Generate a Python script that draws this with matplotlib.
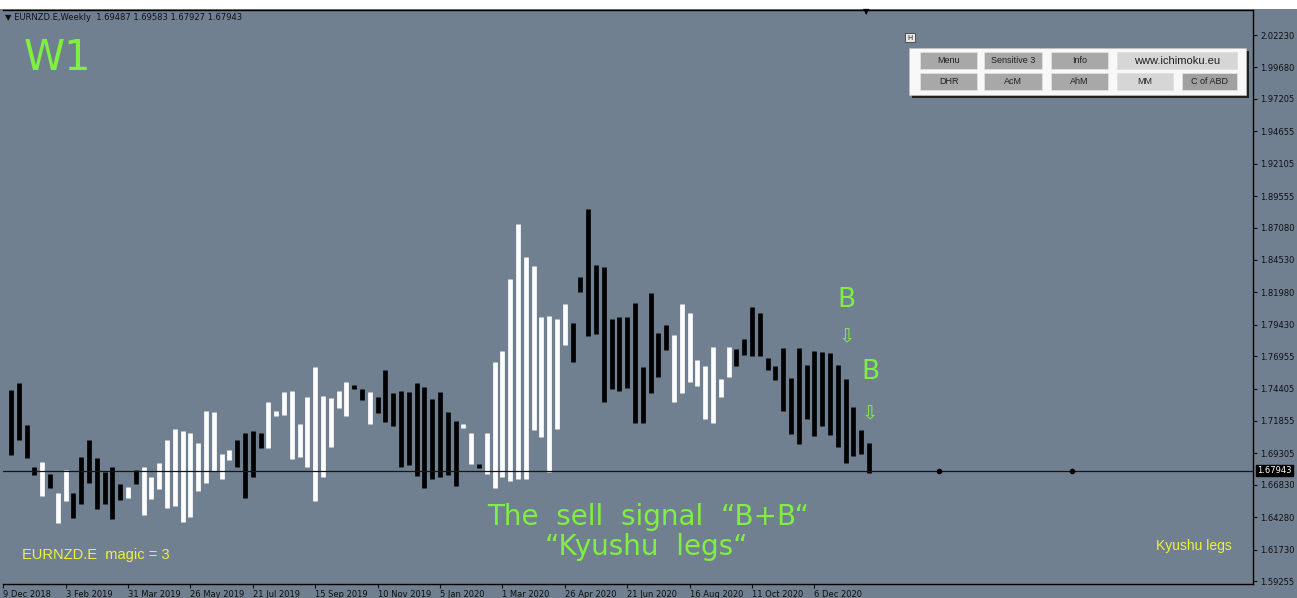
import matplotlib
matplotlib.use('Agg')
import matplotlib.pyplot as plt
import matplotlib.dates as mdates
from matplotlib.patches import Rectangle
import pandas as pd

W, H = 1297, 598
BG = '#708090'
GREEN = '#80F040'
YELLOW = '#F0F040'

# weekly "Kyushu legs" bars
weeks = pd.date_range('2018-12-16', periods=111, freq='7D')
highs = [1.7429, 1.7484, 1.7153, 1.6823, 1.6862, 1.6768, 1.6618, 1.6799, 1.6618, 1.6901,
         1.7035, 1.6894, 1.6783, 1.6823, 1.6689, 1.6665, 1.6799, 1.6823, 1.6744, 1.6854,
         1.7035, 1.7122, 1.7106, 1.7090, 1.7012, 1.7264, 1.7256, 1.6925, 1.6957, 1.7035,
         1.7090, 1.7106, 1.7090, 1.7334, 1.7264, 1.7413, 1.7421, 1.7161, 1.7374, 1.7610,
         1.7382, 1.7366, 1.7421, 1.7492, 1.7468, 1.7437, 1.7413, 1.7374, 1.7586, 1.7405,
         1.7421, 1.7413, 1.7484, 1.7452, 1.7358, 1.7413, 1.7256, 1.7185, 1.7161, 1.7090,
         1.6843, 1.7090, 1.7649, 1.7736, 1.8303, 1.8735, 1.8476, 1.8405, 1.8003, 1.8011,
         1.7988, 1.8106, 1.7956, 1.8318, 1.8853, 1.8413, 1.8397, 1.7988, 1.8003, 1.8003,
         1.8114, 1.7610, 1.8192, 1.7878, 1.7940, 1.7862, 1.8106, 1.8035, 1.7665, 1.7618,
         1.7767, 1.7515, 1.7767, 1.7752, 1.7830, 1.8082, 1.8035, 1.7681, 1.7618, 1.7759,
         1.7523, 1.7759, 1.7626, 1.7736, 1.7728, 1.7720, 1.7626, 1.7515, 1.7295, 1.7114,
         1.7012]
lows = [1.6917, 1.7035, 1.6894, 1.6760, 1.6595, 1.6658, 1.6382, 1.6555, 1.6421, 1.6532,
        1.6697, 1.6492, 1.6532, 1.6414, 1.6563, 1.6579, 1.6689, 1.6445, 1.6571, 1.6650,
        1.6500, 1.6516, 1.6390, 1.6429, 1.6634, 1.6697, 1.6791, 1.6728, 1.6878, 1.6823,
        1.6579, 1.6744, 1.6972, 1.6972, 1.7224, 1.7232, 1.6886, 1.6901, 1.6823, 1.6555,
        1.6744, 1.6980, 1.7287, 1.7224, 1.7437, 1.7350, 1.7161, 1.7248, 1.7177, 1.7146,
        1.6823, 1.6839, 1.6752, 1.6658, 1.6728, 1.6744, 1.6760, 1.6673, 1.7130, 1.6846,
        1.6812, 1.6768, 1.6658, 1.6744, 1.6713, 1.6728, 1.6728, 1.7114, 1.7059, 1.6783,
        1.7122, 1.7783, 1.7649, 1.8200, 1.7854, 1.7870, 1.7334, 1.7437, 1.7421, 1.7445,
        1.7169, 1.7169, 1.7405, 1.7531, 1.7744, 1.7334, 1.7405, 1.7492, 1.7460, 1.7201,
        1.7169, 1.7374, 1.7531, 1.7618, 1.7704, 1.7696, 1.7696, 1.7586, 1.7508, 1.7264,
        1.7083, 1.7004, 1.7201, 1.7067, 1.7146, 1.7075, 1.6980, 1.6854, 1.6909, 1.6925,
        1.6776]
colors = ('BBBBWBWWBB' 'BBBBBWBWWW' 'WWWWWWWWWB' 'BBBWWWWWWW' 'WWWWBBWBBB'
          'BBBBBBBBWW' 'BWWWWWWWWW' 'WWBBBBBBBB' 'BBBBBWWWWW' 'WWWBBBBBBB'
          'BBBBBBBBBBB')

last_price = 1.67943
future_dots = [9, 26]   # weeks after last bar
tick_dates = pd.date_range('2018-12-09', periods=14, freq='56D')
price_ticks = [2.02230, 1.99680, 1.97205, 1.94655, 1.92105, 1.89555, 1.87080, 1.84530,
               1.81980, 1.79430, 1.76955, 1.74405, 1.71855, 1.69305, 1.66830, 1.64280,
               1.61730, 1.59255]
signals = [(107, 1.8137, 1.7846), (110, 1.7571, 1.7240)]  # bar, "B" level, arrow level


def fx(x):
    return x / W


def fy(y):
    return 1 - y / H


def box(x0, y0, x1, y1, **kw):
    fig.add_artist(Rectangle((fx(x0), fy(y1)), (x1 - x0) / W, (y1 - y0) / H,
                             transform=fig.transFigure, **kw))


fig = plt.figure(figsize=(W / 100, H / 100), dpi=100, facecolor=BG)
ax = fig.add_axes([fx(3), fy(584), fx(1253) - fx(3), fy(10) - fy(584)])
ax.set_facecolor(BG)

xs = mdates.date2num(weeks)
cols = ['white' if c == 'W' else 'black' for c in colors]
ax.vlines(xs, lows, highs, colors=cols, linewidth=3.4)

ax.axhline(last_price, color='#151515', linewidth=0.9)
fut = [xs[-1] + 7 * n for n in future_dots]
ax.plot(fut, [last_price] * len(fut), 'o', color='black', markersize=3)

for i, yb, ya in signals:
    ax.text(xs[i] + 1, yb, 'B', color=GREEN, fontsize=19, ha='center', va='center')
    ax.text(xs[i] + 1, ya, '⇩', color=GREEN, fontsize=14, ha='center', va='center')

ax.set_xlim(xs[0] - 7.2, xs[0] + (1253 - 11) / 7.8 * 7)
ax.set_ylim(1.5902, 2.0420)

ax.set_xticks(mdates.date2num(tick_dates))
ax.set_xticklabels([f"{d.day} {d.strftime('%b %Y')}" for d in tick_dates])
plt.setp(ax.get_xticklabels(), ha='left')
ax.tick_params(axis='x', direction='out', length=3, labelsize=6, pad=1,
               colors='#101010')

ax.yaxis.tick_right()
ax.set_yticks(price_ticks)
ax.set_yticklabels([f'{p:.5f}' for p in price_ticks])
ax.tick_params(axis='y', direction='out', length=3, labelsize=6, pad=2,
               colors='#101010')

for s in ['top', 'right', 'bottom']:
    ax.spines[s].set_color('black')
    ax.spines[s].set_linewidth(1)
ax.spines['left'].set_visible(False)

ax.annotate(f'{last_price:.5f}', xy=(1, last_price), xycoords=('axes fraction', 'data'),
            xytext=(3, 0), textcoords='offset points', ha='left', va='center',
            fontsize=6, color='white',
            bbox=dict(boxstyle='square,pad=0.15', fc='black', ec='black'))

# header and labels
box(0, 0, W, 9, facecolor='white', edgecolor='none')
fig.text(fx(5), fy(18), '▼ EURNZD.E,Weekly  1.69487 1.69583 1.67927 1.67943',
         fontsize=6, color='#111111', va='center')
fig.text(fx(866), fy(12), '▼', fontsize=6, color='black', ha='center', va='center')
fig.text(fx(24), fy(58), 'W1', fontsize=30, color=GREEN, va='center')
fig.text(fx(22), fy(555), 'EURNZD.E  magic = 3', fontsize=10.5, color=YELLOW,
         va='center', family='Liberation Sans')
fig.text(fx(1194), fy(546), 'Kyushu legs', fontsize=10, color=YELLOW,
         ha='center', va='center', family='Liberation Sans')
fig.text(fx(648), fy(517), 'The  sell  signal  “B+B“', fontsize=20, color=GREEN,
         ha='center', va='center')
fig.text(fx(646), fy(547), '“Kyushu  legs“', fontsize=20, color=GREEN,
         ha='center', va='center')

# button panel
box(905, 33, 915, 42, facecolor='#E8E8E8', edgecolor='#404040', linewidth=0.6)
fig.text(fx(910), fy(37.5), 'H', fontsize=5, ha='center', va='center', color='#202020')
box(912, 51, 1249, 98, facecolor='#202020', edgecolor='none')
box(909, 48, 1246, 95, facecolor='#F8F8F8', edgecolor='#C0C0C0', linewidth=0.5)
buttons = [
    ('Menu', 920, 52, 977, 69, '#A8A8A8', 6.5),
    ('Sensitive 3', 984, 52, 1042, 69, '#A8A8A8', 6.5),
    ('Info', 1051, 52, 1108, 69, '#A8A8A8', 6.5),
    ('www.ichimoku.eu', 1117, 52, 1237, 69, '#D6D6D6', 8),
    ('DHR', 920, 73, 977, 90, '#A8A8A8', 6.5),
    ('AcM', 984, 73, 1042, 90, '#A8A8A8', 6.5),
    ('AhM', 1051, 73, 1108, 90, '#A8A8A8', 6.5),
    ('MM', 1117, 73, 1173, 90, '#D6D6D6', 6.5),
    ('C of ABD', 1182, 73, 1237, 90, '#A0A0A0', 6.5),
]
for label, x0, y0, x1, y1, c, fs in buttons:
    box(x0, y0, x1, y1, facecolor=c, edgecolor='#E0E0E0', linewidth=0.6)
    fig.text(fx((x0 + x1) / 2), fy((y0 + y1) / 2), label, fontsize=fs,
             ha='center', va='center', color='#202020', family='Liberation Sans')

fig.savefig('out.png', dpi=100, facecolor=BG)
